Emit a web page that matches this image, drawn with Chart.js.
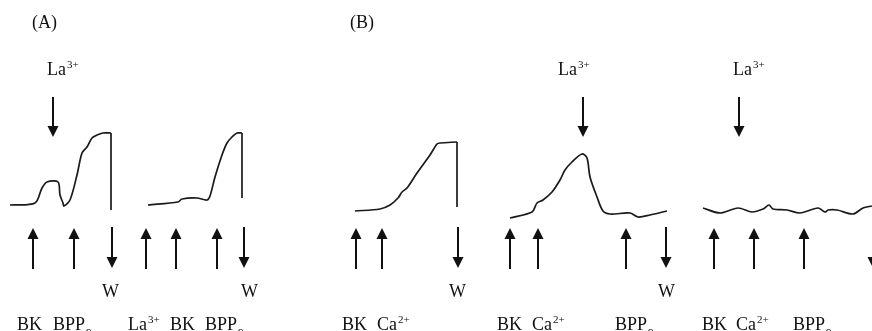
<!DOCTYPE html>
<html>
<head>
<meta charset="utf-8">
<script src="https://cdn.jsdelivr.net/npm/chart.js@4"></script>
<style>
  html, body { margin: 0; padding: 0; background: #fff; }
  #wrap { width: 872px; height: 331px; }
</style>
</head>
<body>
<div id="wrap"><canvas id="c"></canvas></div>
<script>
// 記録トレース（横＝時間, 縦＝応答）: 各パネルの曲線
const traceA1X = [10, 35, 42, 47, 58, 60, 63, 64, 70, 77, 82, 87, 92, 97, 103, 111];
const traceA1Y = [205, 203, 188, 182, 182, 195, 203, 206, 200, 175, 153, 147, 138, 135, 133, 133];
const traceA2X = [148, 178, 182, 197, 207, 210, 215, 222, 227, 232, 237, 242];
const traceA2Y = [205, 202, 199, 198, 200, 196, 177, 155, 143, 137, 133, 133];
const traceB1X = [355, 380, 390, 398, 402, 407, 417, 430, 437, 440, 457];
const traceB1Y = [211, 209, 205, 198, 192, 188, 173, 155, 144, 143, 142];
const traceB2X = [510, 532, 537, 543, 552, 560, 565, 572, 582, 587, 590, 597, 603, 610, 630, 638, 650, 667];
const traceB2Y = [218, 212, 203, 200, 192, 180, 170, 162, 154, 158, 177, 197, 211, 214, 213, 217, 215, 211];
const traceB3X = [703, 720, 738, 752, 763, 769, 773, 787, 800, 818, 825, 828, 837, 853, 863, 872];
const traceB3Y = [208, 213, 208, 212, 209, 205, 209, 210, 213, 208, 212, 210, 210, 214, 208, 206];

// 洗浄時の垂直な戻り: [x, 上端, 下端]
const washDrops = [[111, 133, 210], [242, 133, 198], [457, 142, 207]];

// 投与タイミング（矢印）
const addArrowsX = [33, 74, 146, 176, 217, 356, 382, 510, 538, 626, 714, 754, 804];   // 上向き（薬剤添加）
const washArrowsX = [112, 244, 458, 666, 873];                                         // 下向き（W）
const laArrowsX = [53, 583, 739];                                                      // 上部 La3+

// ラベル: [x, y, 本文, 上付き, 下付き]
const labels = [
  [32, 28, '(A)', '', ''], [350, 28, '(B)', '', ''],
  [47, 75, 'La', '3+', ''], [558, 75, 'La', '3+', ''], [733, 75, 'La', '3+', ''],
  [102, 297, 'W', '', ''], [241, 297, 'W', '', ''], [449, 297, 'W', '', ''], [658, 297, 'W', '', ''],
  [17, 330, 'BK', '', ''], [53, 330, 'BPP', '', '9α'], [128, 330, 'La', '3+', ''],
  [170, 330, 'BK', '', ''], [205, 330, 'BPP', '', '9α'],
  [342, 330, 'BK', '', ''], [377, 330, 'Ca', '2+', ''],
  [497, 330, 'BK', '', ''], [532, 330, 'Ca', '2+', ''], [615, 330, 'BPP', '', '9α'],
  [702, 330, 'BK', '', ''], [736, 330, 'Ca', '2+', ''], [793, 330, 'BPP', '', '9α'],
];

const toPts = (xs, ys) => xs.map((x, i) => ({ x, y: ys[i] }));
const traceStyle = { showLine: true, borderColor: '#1a1a1a', borderWidth: 1.7, pointRadius: 0, tension: 0.3, fill: false };
const dropStyle = { ...traceStyle, tension: 0 };

// 矢印と文字を描くプラグイン
const figurePlugin = {
  id: 'figure',
  afterDatasetsDraw(chart) {
    const { ctx, scales: { x, y } } = chart;
    const arrow = (px, yFrom, yTip) => {
      const X = x.getPixelForValue(px), Y0 = y.getPixelForValue(yFrom), Y1 = y.getPixelForValue(yTip);
      const dir = Y1 > Y0 ? 1 : -1;
      ctx.save();
      ctx.strokeStyle = '#111'; ctx.fillStyle = '#111'; ctx.lineWidth = 2;
      ctx.beginPath(); ctx.moveTo(X, Y0); ctx.lineTo(X, Y1 - dir * 8); ctx.stroke();
      ctx.beginPath();
      ctx.moveTo(X, Y1); ctx.lineTo(X - 5.5, Y1 - dir * 11); ctx.lineTo(X + 5.5, Y1 - dir * 11);
      ctx.closePath(); ctx.fill();
      ctx.restore();
    };
    addArrowsX.forEach(v => arrow(v, 269, 228));
    washArrowsX.forEach(v => arrow(v, 227, 268));
    laArrowsX.forEach(v => arrow(v, 97, 137));

    ctx.save();
    ctx.fillStyle = '#111';
    ctx.textBaseline = 'alphabetic';
    ctx.textAlign = 'left';
    labels.forEach(([lx, ly, main, sup, sub]) => {
      let X = x.getPixelForValue(lx);
      const Y = y.getPixelForValue(ly);
      ctx.font = '18px "Liberation Serif", "Times New Roman", serif';
      ctx.fillText(main, X, Y);
      X += ctx.measureText(main).width + 1;
      ctx.font = '11px "Liberation Serif", "Times New Roman", serif';
      if (sup) ctx.fillText(sup, X, Y - 7);
      if (sub) ctx.fillText(sub, X, Y + 6);
    });
    ctx.restore();
  },
};

new Chart(document.getElementById('c'), {
  type: 'scatter',
  data: {
    datasets: [
      { data: toPts(traceA1X, traceA1Y), ...traceStyle },
      { data: toPts(traceA2X, traceA2Y), ...traceStyle },
      { data: toPts(traceB1X, traceB1Y), ...traceStyle },
      { data: toPts(traceB2X, traceB2Y), ...traceStyle },
      { data: toPts(traceB3X, traceB3Y), ...traceStyle },
      ...washDrops.map(([dx, top, bottom]) => ({ data: [{ x: dx, y: top }, { x: dx, y: bottom }], ...dropStyle })),
    ],
  },
  options: {
    responsive: true,
    maintainAspectRatio: false,
    animation: false,
    layout: { padding: 0 },
    plugins: { legend: { display: false }, tooltip: { enabled: false } },
    scales: {
      x: { type: 'linear', min: 0, max: 872, display: false },
      y: { type: 'linear', min: 0, max: 331, reverse: true, display: false },
    },
  },
  plugins: [figurePlugin],
});
</script>
</body>
</html>
